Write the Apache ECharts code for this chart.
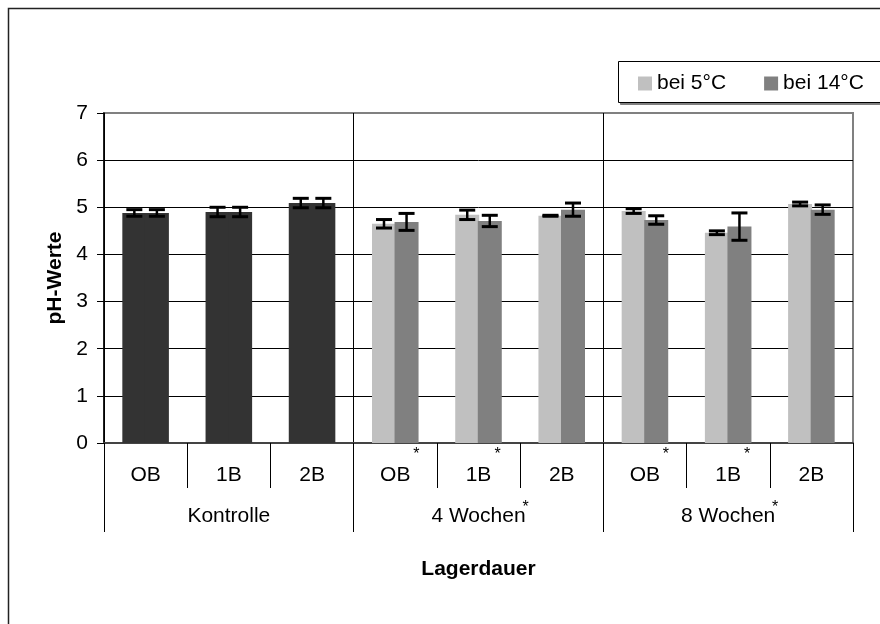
<!DOCTYPE html>
<html>
<head>
<meta charset="utf-8">
<script src="https://cdn.jsdelivr.net/npm/echarts@6/dist/echarts.min.js"></script>
<style>
html,body{margin:0;padding:0;background:#fff;}
#chart{width:880px;height:624px;}
</style>
</head>
<body>
<div id="chart"></div>
<script>
// ---- data ----
const categories = ['OB', '1B', '2B', 'OB', '1B', '2B', 'OB', '1B', '2B'];
const groups = ['Kontrolle', '4 Wochen', '8 Wochen'];
const seriesNames = ['bei 5°C', 'bei 14°C'];
const ph5 = [4.88, 4.90, 5.09, 4.65, 4.84, 4.82, 4.92, 4.46, 5.07];
const ph14 = [4.88, 4.90, 5.09, 4.69, 4.71, 4.95, 4.73, 4.59, 4.95];
const err5 = [0.07, 0.10, 0.10, 0.09, 0.10, 0.01, 0.05, 0.04, 0.04];
const err14 = [0.07, 0.10, 0.10, 0.18, 0.12, 0.14, 0.09, 0.29, 0.10];
const controlCount = 3;           // first group (Kontrolle) drawn dark
const starredCats = [3, 4, 6, 7]; // category labels with asterisk
const starredGroups = [1, 2];     // group labels with asterisk
const yTicks = [0, 1, 2, 3, 4, 5, 6, 7];

// ---- styles ----
const FONT = 'Liberation Sans, Arial, sans-serif';
const FS = 21;
const C5 = '#c0c0c0', C14 = '#808080', CCTRL = '#333333';
const BAR_W = 24;
const GAP = -0.06;
const ERR_OFF = BAR_W * (1 + GAP) / 2;

const chart = echarts.init(document.getElementById('chart'), null, {renderer: 'canvas'});

function barData(vals) {
  return vals.map((v, i) => i < controlCount
    ? {value: v, itemStyle: {color: CCTRL}}
    : v);
}
function errData(vals, errs) {
  return vals.map((v, i) => [i, v - errs[i], v + errs[i]]);
}
function errRender(offset) {
  return function (params, api) {
    const x = api.value(0);
    const lo = api.coord([x, api.value(1)]);
    const hi = api.coord([x, api.value(2)]);
    const cx = lo[0] + offset;
    const cw = 8;
    const st = {stroke: '#000', lineWidth: 3};
    return {
      type: 'group',
      children: [
        {type: 'line', shape: {x1: cx, y1: lo[1], x2: cx, y2: hi[1]}, style: {stroke: '#000', lineWidth: 2.5}},
        {type: 'line', shape: {x1: cx - cw, y1: lo[1], x2: cx + cw, y2: lo[1]}, style: st},
        {type: 'line', shape: {x1: cx - cw, y1: hi[1], x2: cx + cw, y2: hi[1]}, style: st}
      ]
    };
  };
}

const option = {
  animation: false,
  backgroundColor: '#fff',
  textStyle: {fontFamily: FONT},
  grid: {left: 104, top: 113, width: 749, height: 330, show: true, borderColor: '#808080', borderWidth: 2, backgroundColor: 'transparent'},
  legend: {
    data: seriesNames,
    left: 618, top: 61,
    orient: 'horizontal',
    itemWidth: 14, itemHeight: 14, itemGap: 38,
    padding: [12, 0, 8, 20],
    z: 5,
    textStyle: {fontSize: FS, color: '#000', fontFamily: FONT},
    icon: 'rect'
  },
  xAxis: [
    {
      type: 'category', data: categories, position: 'bottom', gridIndex: 0,
      axisLine: {show: true, lineStyle: {color: '#444', width: 2}},
      axisTick: {show: true, interval: 0, length: 45, alignWithLabel: false, lineStyle: {color: '#000', width: 1}},
      axisLabel: {interval: 0, fontSize: FS, color: '#000', margin: 22, fontFamily: FONT},
      splitLine: {show: false},
      name: 'Lagerdauer', nameLocation: 'middle', nameGap: 116,
      nameTextStyle: {fontSize: FS, fontWeight: 'bold', color: '#000', fontFamily: FONT}
    },
    {
      type: 'category', data: groups, position: 'bottom', gridIndex: 0,
      axisLine: {show: false},
      axisTick: {show: true, interval: 0, length: 89, alignWithLabel: false, lineStyle: {color: '#000', width: 1}},
      axisLabel: {interval: 0, fontSize: FS, color: '#000', margin: 63, fontFamily: FONT},
      splitLine: {show: true, interval: 0, lineStyle: {color: ['#000', '#000', '#000', '#808080'], width: 1}}
    }
  ],
  yAxis: {
    type: 'value', min: yTicks[0], max: yTicks[yTicks.length - 1], interval: 1,
    axisLine: {show: true, lineStyle: {color: '#000', width: 1.5}},
    axisTick: {show: true, length: 7, lineStyle: {color: '#000'}},
    axisLabel: {fontSize: FS, color: '#000', margin: 16, fontFamily: FONT},
    splitLine: {show: true, lineStyle: {color: ['#000', '#000', '#000', '#000', '#000', '#000', '#000', '#808080'], width: 1}},
    name: 'pH-Werte', nameLocation: 'middle', nameGap: 38, nameRotate: 90,
    nameTextStyle: {fontSize: FS, fontWeight: 'bold', color: '#000', fontFamily: FONT}
  },
  series: [
    {name: seriesNames[0], type: 'bar', xAxisIndex: 0, barWidth: BAR_W, barGap: (GAP * 100) + '%', itemStyle: {color: C5}, data: barData(ph5)},
    {name: seriesNames[1], type: 'bar', xAxisIndex: 0, barWidth: BAR_W, barGap: (GAP * 100) + '%', itemStyle: {color: C14}, data: barData(ph14)},
    {name: 'err5', type: 'custom', xAxisIndex: 0, z: 10, renderItem: errRender(-ERR_OFF), data: errData(ph5, err5), encode: {x: 0, y: [1, 2]}},
    {name: 'err14', type: 'custom', xAxisIndex: 0, z: 10, renderItem: errRender(ERR_OFF), data: errData(ph14, err14), encode: {x: 0, y: [1, 2]}}
  ]
};
chart.setOption(option);

// asterisks, legend frame and outer frame placed around library output
const y0 = chart.convertToPixel({yAxisIndex: 0}, 0);
const gfx = [
  {type: 'rect', shape: {x: 8.5, y: 8.5, width: 1000, height: 1000}, style: {fill: 'none', stroke: '#222', lineWidth: 1.5}, silent: true, z: 0},
  {type: 'rect', shape: {x: 620.5, y: 63.5, width: 400, height: 41}, style: {fill: '#808080', stroke: '#808080', lineWidth: 1}, silent: true, z: 1},
  {type: 'rect', shape: {x: 618.5, y: 61.5, width: 400, height: 41}, style: {fill: '#fff', stroke: '#000', lineWidth: 1}, silent: true, z: 2}
];
starredCats.forEach(i => {
  const x = chart.convertToPixel({xAxisIndex: 0}, i);
  const off = categories[i] === 'OB' ? 21 : 19;
  gfx.push({type: 'text', x: x + off, y: y0 + 4, style: {text: '*', font: '16px ' + FONT, fill: '#000', textAlign: 'center', textVerticalAlign: 'top'}, z: 20});
});
starredGroups.forEach(g => {
  const x = chart.convertToPixel({xAxisIndex: 1}, g);
  gfx.push({type: 'text', x: x + 47, y: y0 + 57, style: {text: '*', font: '16px ' + FONT, fill: '#000', textAlign: 'center', textVerticalAlign: 'top'}, z: 20});
});
chart.setOption({graphic: gfx});
</script>
</body>
</html>
